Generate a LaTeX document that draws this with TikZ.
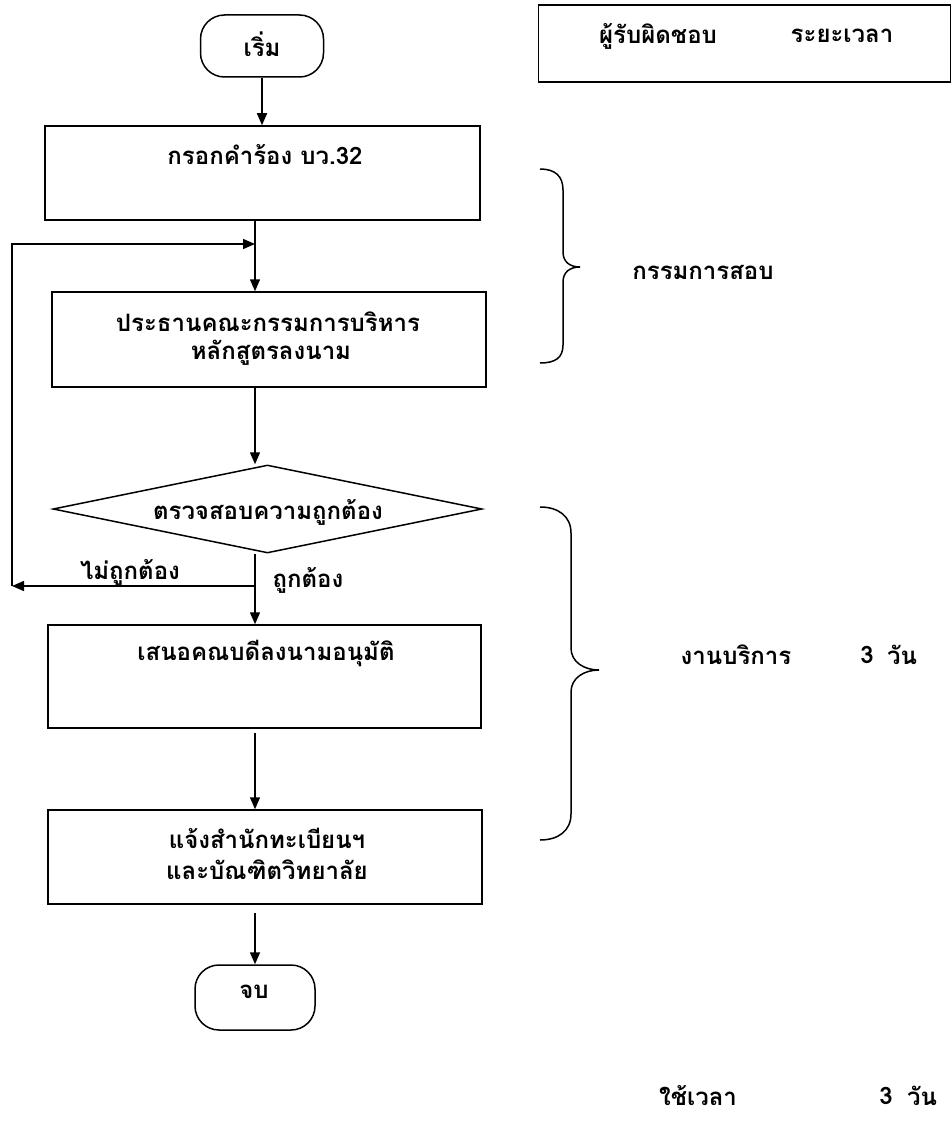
\documentclass[tikz,border=0pt]{standalone}
\usepackage{fontspec}
\setmainfont[Script=Thai]{Loma}
\usetikzlibrary{arrows.meta,shapes.geometric}
\begin{document}
\begin{tikzpicture}[x=1pt,y=-1pt,
  line width=1.5pt,
  every node/.style={font=\bfseries\fontsize{24}{32}\selectfont},
  arr/.style={-{Triangle[length=12pt,width=10pt]}},
  box/.style={draw,rectangle,inner sep=0pt},
  term/.style={draw,rectangle,rounded corners=24pt,inner sep=0pt},
  dec/.style={draw,diamond,inner sep=0pt},
  txt/.style={inner sep=0pt,anchor=center},
  brace/.style={line width=1.5pt}]
\useasboundingbox (0,0) rectangle (952,1121);

% main column
\node[term,minimum width=123pt,minimum height=62pt] (start) at (262,46) {};
\node[txt] (tstart) at (262,44) {เริ่ม};

\node[box,minimum width=435pt,minimum height=94pt] (b1) at (262.5,173) {};
\node[txt] (t1) at (265,155) {กรอกคำร้อง บว.32};

\node[box,minimum width=434pt,minimum height=95pt] (b2) at (269,339.5) {};
\node[txt] (t2a) at (268,322) {ประธานคณะกรรมการบริหาร};
\node[txt] (t2b) at (271,353) {หลักสูตรลงนาม};

\node[dec,minimum width=429pt,minimum height=88pt] (dia) at (267.5,509) {};
\node[txt] (td) at (268,512) {ตรวจสอบความถูกต้อง};

\node[box,minimum width=433pt,minimum height=103pt] (b3) at (264.5,676.5) {};
\node[txt] (t3) at (266,653) {เสนอคณบดีลงนามอนุมัติ};

\node[box,minimum width=434pt,minimum height=94pt] (b4) at (265,857) {};
\node[txt] (t4a) at (267,838) {แจ้งสำนักทะเบียนฯ};
\node[txt] (t4b) at (267,870) {และบัณฑิตวิทยาลัย};

\node[term,minimum width=120pt,minimum height=65pt] (end) at (255,997.5) {};
\node[txt] (tend) at (254,992) {จบ};

% connectors
\coordinate (cx) at (255,0);
\coordinate (lt) at (12,244);
\coordinate (lb) at (12,586);
\coordinate (jt) at (255,244);
\coordinate (jb) at (255,586);

\draw[arr] (start.south) -- (start.south |- b1.north);
\draw[arr] (b1.south -| cx) -- (b2.north -| cx);
\draw[arr] (lb) -- (lt) -- (jt);
\draw[arr] (jb) -- (lb);
\draw[arr] (b2.south -| cx) -- (dia.north -| cx);
\draw[arr] (dia.south -| cx) -- (b3.north -| cx);
\draw[arr,shorten <=4pt] (b3.south -| cx) -- (b4.north -| cx);
\draw[arr,shorten <=8pt] (b4.south -| cx) -- (end.north);

\node[txt] (no) at (130,572) {ไม่ถูกต้อง};
\node[txt] (yes) at (308,580) {ถูกต้อง};

% responsibility column
\node[box,minimum width=412pt,minimum height=77pt] (head) at (744.5,43.5) {};
\node[txt] (h1) at (658,36) {ผู้รับผิดชอบ};
\node[txt] (h2) at (842,36) {ระยะเวลา};

\draw[brace] (540,169) .. controls (555,169) and (563,176) .. (563,190)
  -- (563,252) .. controls (563,262) and (570,267) .. (580,267)
  .. controls (570,267) and (563,272) .. (563,282)
  -- (563,345) .. controls (563,358) and (555,363) .. (540,363);
\node[txt] (r1) at (703,272) {กรรมการสอบ};

\draw[brace] (540,507) .. controls (558,507) and (571,516) .. (571,533)
  -- (571,648) .. controls (571,662) and (584,670) .. (599,670)
  .. controls (584,670) and (571,678) .. (571,692)
  -- (571,814) .. controls (571,831) and (558,840) .. (540,840);
\node[txt] (r2) at (736,655) {งานบริการ};
\node[txt] (r2n) at (867,655) {3};
\node[txt] (r2d) at (902,655) {วัน};

\node[txt] (sum) at (698,1096) {ใช้เวลา};
\node[txt] (sumn) at (886,1096) {3};
\node[txt] (sumd) at (922,1096) {วัน};
\end{tikzpicture}
\end{document}
